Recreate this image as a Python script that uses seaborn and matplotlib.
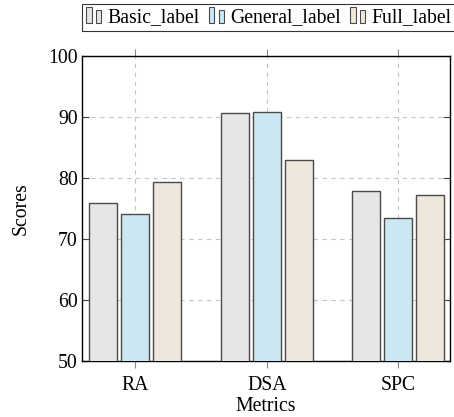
import matplotlib
matplotlib.use("Agg")
import matplotlib.pyplot as plt
import matplotlib.patches as mpatches
from matplotlib.legend_handler import HandlerBase
import seaborn as sns
import pandas as pd

categories = ["RA", "DSA", "SPC"]
series_names = ["Basic_label", "General_label", "Full_label"]
basic_vals = [75.9, 90.65, 77.8]
general_vals = [74.0, 90.85, 73.4]
full_vals = [79.25, 82.9, 77.2]
colors = ["#e6e6e6", "#c7e9f8", "#f2e6d9"]
y_ticks = [50, 60, 70, 80, 90, 100]

rows = []
for name, vals in zip(series_names, [basic_vals, general_vals, full_vals]):
    for c, v in zip(categories, vals):
        rows.append({"Metrics": c, "Scores": v, "Series": name})
df = pd.DataFrame(rows)

plt.rcParams["font.family"] = ["Liberation Serif", "DejaVu Serif"]
FS = 14.2

fig = plt.figure(figsize=(4.54, 4.17), dpi=100)
ax = fig.add_axes([82 / 454, 1 - 361 / 417, (450 - 82) / 454, (361 - 55.7) / 417])

sns.barplot(data=df, x="Metrics", y="Scores", hue="Series", order=categories,
            hue_order=series_names, palette=colors, width=0.73, gap=0.12,
            edgecolor="#4a4a4a", linewidth=1.0, ax=ax, legend=False, zorder=3)

ax.set_ylim(50, 100)
ax.set_xlim(-0.405, 2.395)
ax.set_yticks(y_ticks)
ax.set_yticklabels([str(t) for t in y_ticks])
ax.tick_params(axis="x", labelsize=FS, direction="out", length=5, width=0.8,
               color="#888888", top=True, bottom=True, pad=6)
ax.tick_params(axis="y", labelsize=FS, direction="in", length=5, width=0.8, color="#444444",
               left=True, right=True, pad=3)
ax.grid(True, axis="both", linestyle=(0, (4, 4)), color="#c4c4c4", linewidth=0.8, zorder=0)
ax.set_axisbelow(True)
for s in ax.spines.values():
    s.set_color("black")
    s.set_linewidth(1.0)
ax.set_xlabel("Metrics", fontsize=FS, labelpad=1.5)
ax.set_ylabel("Scores", fontsize=FS, labelpad=13)


class TwoBarHandler(HandlerBase):
    def create_artists(self, legend, orig_handle, xdescent, ydescent, width, height, fontsize, trans):
        fc = orig_handle.get_facecolor()
        w = width * 0.3
        r1 = mpatches.Rectangle((-xdescent + width * 0.02, -ydescent - 0.1 * height), w, height * 1.15,
                                facecolor=fc, edgecolor="#4a4a4a", linewidth=0.8, transform=trans)
        r2 = mpatches.Rectangle((-xdescent + width * 0.55, -ydescent - 0.1 * height), w, height * 0.95,
                                facecolor=fc, edgecolor="#4a4a4a", linewidth=0.8, transform=trans)
        return [r1, r2]


handles = [mpatches.Patch(facecolor=c, edgecolor="#4a4a4a") for c in colors]
leg = fig.legend(handles, series_names, loc="upper left", ncol=3,
                 bbox_to_anchor=(82 / 454, 1 - 4 / 417), frameon=True, fontsize=FS,
                 handler_map={mpatches.Patch: TwoBarHandler()},
                 handlelength=0.9, handletextpad=0.2, columnspacing=0.45,
                 borderpad=0.2, borderaxespad=0.0, fancybox=False)
leg.get_frame().set_edgecolor("black")
leg.get_frame().set_linewidth(0.8)

fig.savefig("out.png", dpi=100)
